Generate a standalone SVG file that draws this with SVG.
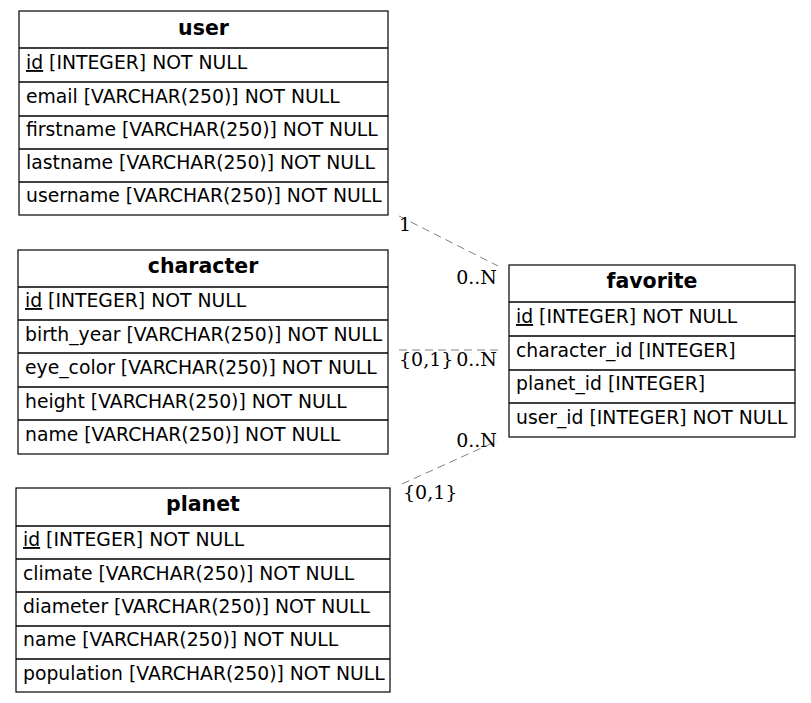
<svg xmlns="http://www.w3.org/2000/svg" width="811" height="703" viewBox="0 0 811 703">
  <style>
    .box { fill: #ffffff; stroke: #000000; stroke-width: 1.2; }
    .sep { stroke: #000000; stroke-width: 1.6; }
    .title { font-family: "DejaVu Sans", sans-serif; font-size: 20.5px; font-weight: bold; text-anchor: middle; fill: #000; }
    .field { font-family: "DejaVu Sans", sans-serif; font-size: 18.8px; fill: #000; }
    .pk { text-decoration: underline; }
    .edge { fill: none; stroke: #808080; stroke-width: 1; stroke-dasharray: 8 5; }
    .lbl { font-family: "DejaVu Serif", serif; font-size: 19px; fill: #000; }
    .end { text-anchor: end; }
  </style>
  <rect width="811" height="703" fill="#ffffff"/>

  <!-- relationships -->
  <g id="connectors">
    <line class="edge" x1="399" y1="216" x2="498" y2="266"/>
    <line class="edge" x1="399" y1="350" x2="498" y2="350"/>
    <line class="edge" x1="402" y1="484" x2="497" y2="441"/>
    <text class="lbl" x="399" y="231">1</text>
    <text class="lbl end" x="497" y="284">0..N</text>
    <text class="lbl" x="399" y="366">{0,1}</text>
    <text class="lbl end" x="497" y="366">0..N</text>
    <text class="lbl end" x="497" y="447">0..N</text>
    <text class="lbl" x="403" y="499">{0,1}</text>
  </g>

  <!-- user table -->
  <g id="user">
    <rect class="box" x="19" y="11" width="369" height="204"/>
    <line class="sep" x1="19" y1="48" x2="388" y2="48"/>
    <line class="sep" x1="19" y1="82" x2="388" y2="82"/>
    <line class="sep" x1="19" y1="116" x2="388" y2="116"/>
    <line class="sep" x1="19" y1="149" x2="388" y2="149"/>
    <line class="sep" x1="19" y1="182" x2="388" y2="182"/>
    <text class="title" x="203.5" y="35">user</text>
    <text class="field" x="26" y="69"><tspan class="pk">id</tspan> [INTEGER] NOT NULL</text>
    <text class="field" x="26" y="103">email [VARCHAR(250)] NOT NULL</text>
    <text class="field" x="26" y="136">firstname [VARCHAR(250)] NOT NULL</text>
    <text class="field" x="26" y="169">lastname [VARCHAR(250)] NOT NULL</text>
    <text class="field" x="26" y="202">username [VARCHAR(250)] NOT NULL</text>
  </g>

  <!-- character table -->
  <g id="character">
    <rect class="box" x="18" y="250" width="370" height="204"/>
    <line class="sep" x1="18" y1="287" x2="388" y2="287"/>
    <line class="sep" x1="18" y1="320" x2="388" y2="320"/>
    <line class="sep" x1="18" y1="353" x2="388" y2="353"/>
    <line class="sep" x1="18" y1="387" x2="388" y2="387"/>
    <line class="sep" x1="18" y1="420" x2="388" y2="420"/>
    <text class="title" x="203" y="273">character</text>
    <text class="field" x="25" y="307"><tspan class="pk">id</tspan> [INTEGER] NOT NULL</text>
    <text class="field" x="25" y="341">birth_year [VARCHAR(250)] NOT NULL</text>
    <text class="field" x="25" y="374">eye_color [VARCHAR(250)] NOT NULL</text>
    <text class="field" x="25" y="408">height [VARCHAR(250)] NOT NULL</text>
    <text class="field" x="25" y="441">name [VARCHAR(250)] NOT NULL</text>
  </g>

  <!-- planet table -->
  <g id="planet">
    <rect class="box" x="16" y="488" width="374" height="204"/>
    <line class="sep" x1="16" y1="526" x2="390" y2="526"/>
    <line class="sep" x1="16" y1="559" x2="390" y2="559"/>
    <line class="sep" x1="16" y1="592" x2="390" y2="592"/>
    <line class="sep" x1="16" y1="626" x2="390" y2="626"/>
    <line class="sep" x1="16" y1="659" x2="390" y2="659"/>
    <text class="title" x="203" y="511">planet</text>
    <text class="field" x="23" y="546"><tspan class="pk">id</tspan> [INTEGER] NOT NULL</text>
    <text class="field" x="23" y="580">climate [VARCHAR(250)] NOT NULL</text>
    <text class="field" x="23" y="613">diameter [VARCHAR(250)] NOT NULL</text>
    <text class="field" x="23" y="646">name [VARCHAR(250)] NOT NULL</text>
    <text class="field" x="23" y="680">population [VARCHAR(250)] NOT NULL</text>
  </g>

  <!-- favorite table -->
  <g id="favorite">
    <rect class="box" x="509" y="265" width="286" height="172"/>
    <line class="sep" x1="509" y1="302" x2="795" y2="302"/>
    <line class="sep" x1="509" y1="336" x2="795" y2="336"/>
    <line class="sep" x1="509" y1="370" x2="795" y2="370"/>
    <line class="sep" x1="509" y1="403" x2="795" y2="403"/>
    <text class="title" x="652" y="288">favorite</text>
    <text class="field" x="516" y="323"><tspan class="pk">id</tspan> [INTEGER] NOT NULL</text>
    <text class="field" x="516" y="357">character_id [INTEGER]</text>
    <text class="field" x="516" y="390">planet_id [INTEGER]</text>
    <text class="field" x="516" y="424">user_id [INTEGER] NOT NULL</text>
  </g>
</svg>
